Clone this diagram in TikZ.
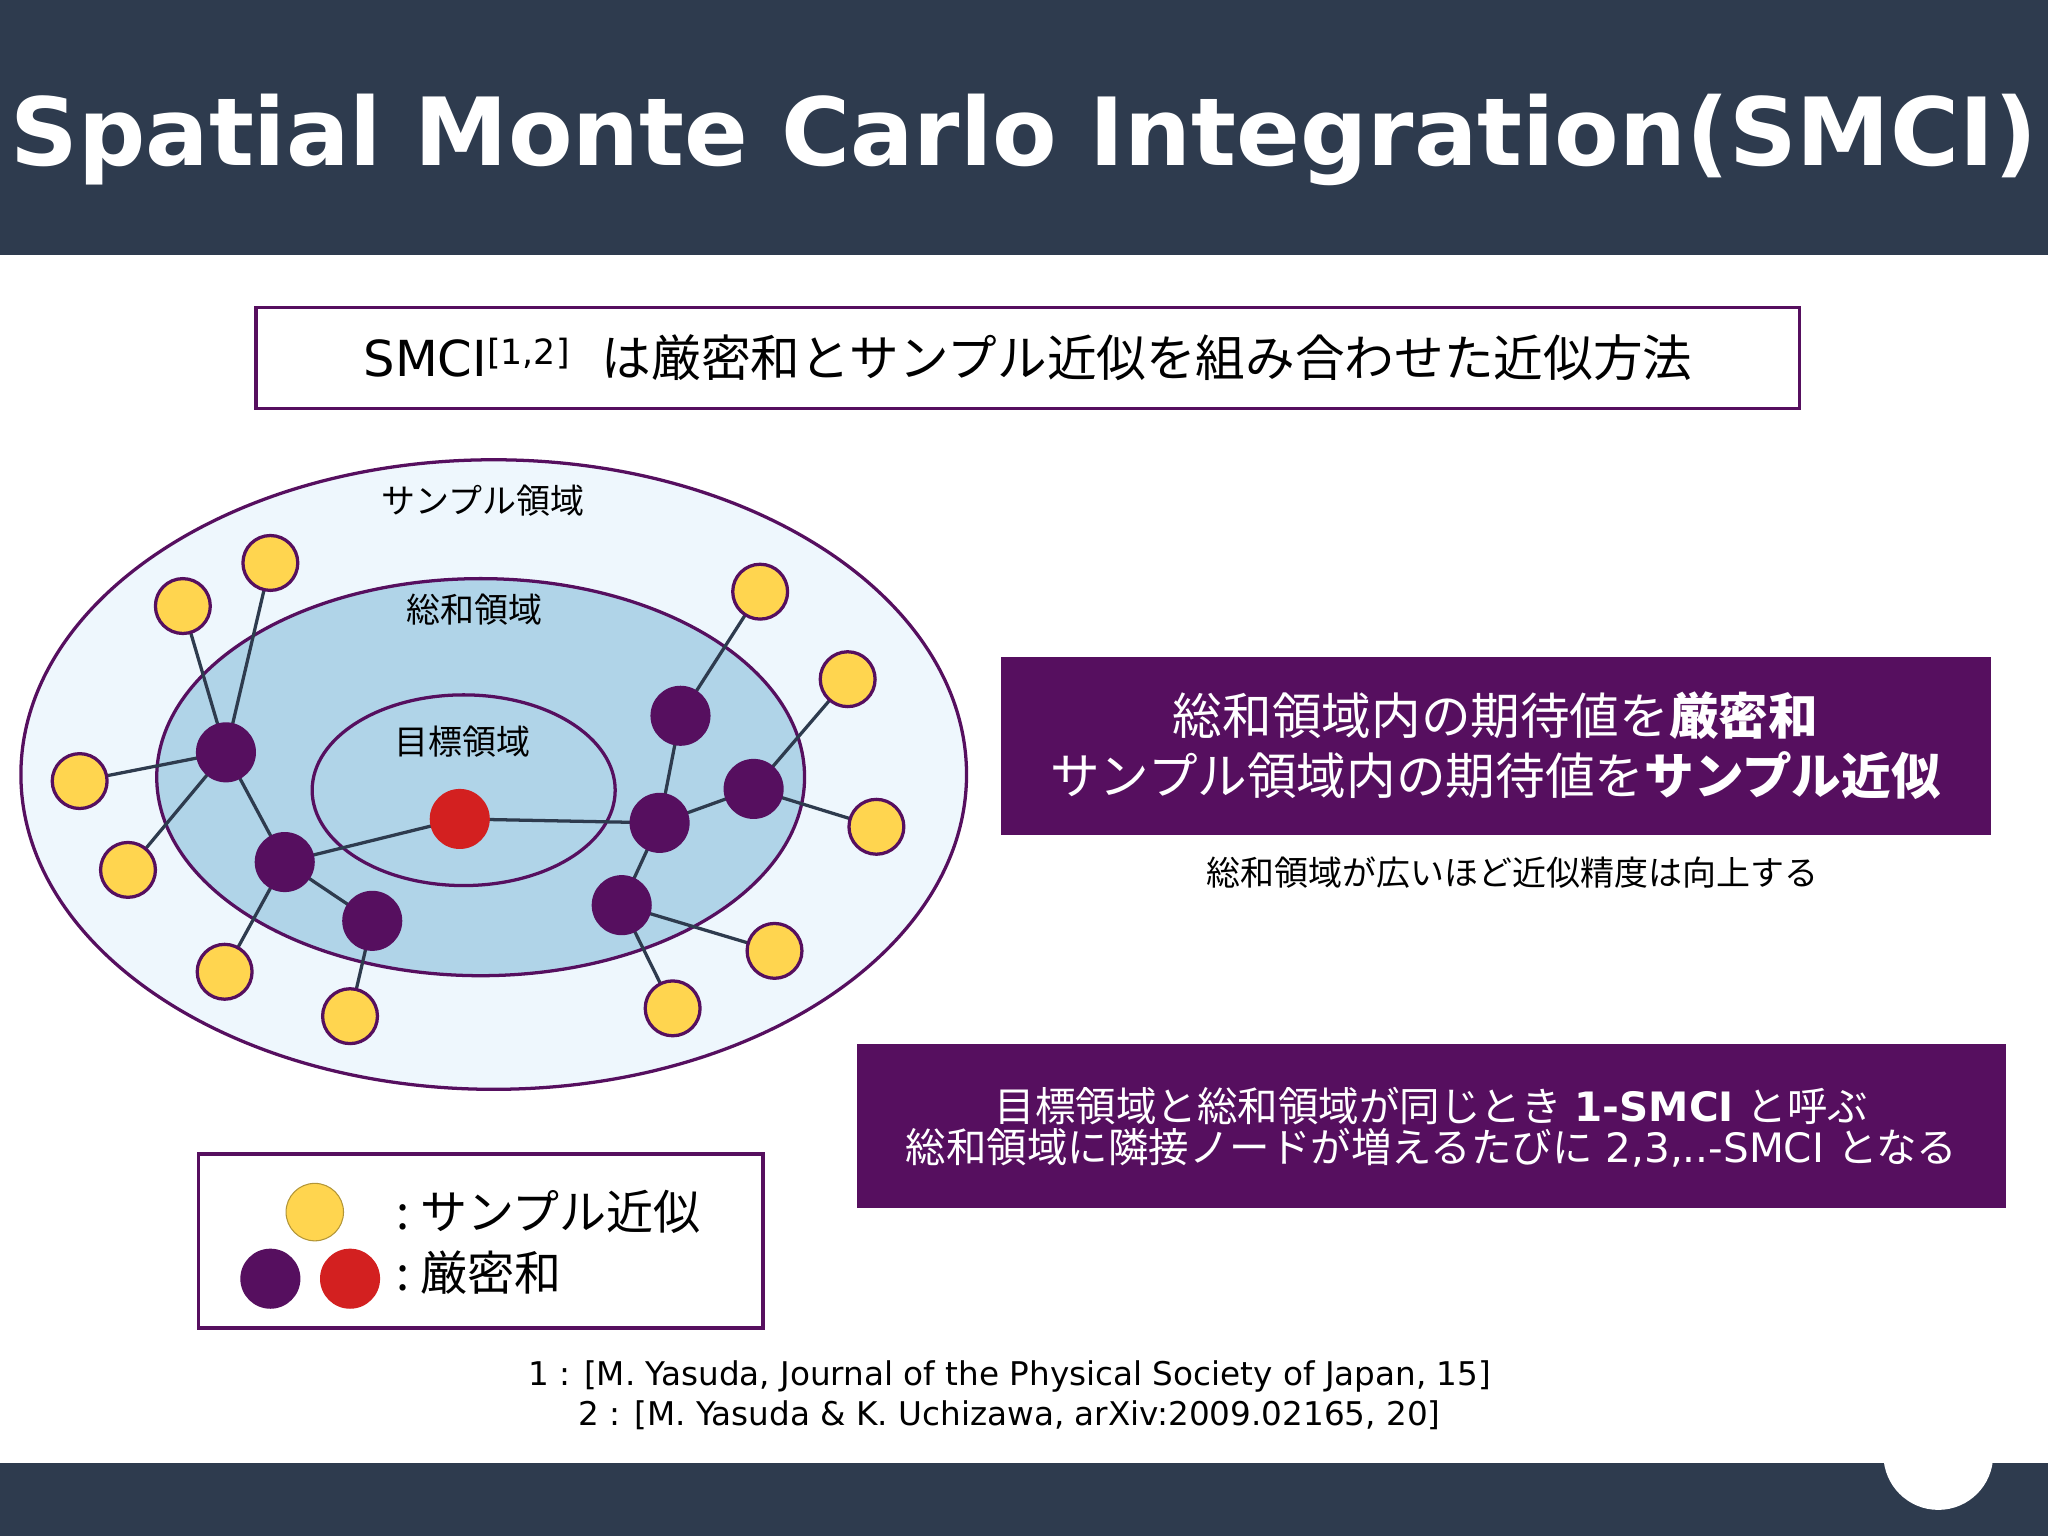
\documentclass[tikz,border=0pt]{standalone}
\usepackage{fontspec}
\setmainfont{DejaVu Sans}
\newfontfamily\cjk{Noto Sans CJK JP}
\definecolor{bar}{HTML}{2E3B4E}
\definecolor{pur}{HTML}{560F5F}
\definecolor{ylw}{HTML}{FFD54F}
\definecolor{rd}{HTML}{D32020}
\definecolor{lt}{HTML}{EEF7FD}
\definecolor{md}{HTML}{B0D4E8}
\definecolor{tl}{HTML}{1ABC9C}
\newcommand{\fs}[1]{\fontsize{#1pt}{\dimexpr #1pt*13/10\relax}\selectfont}
\tikzset{x=1pt,y=-1pt,
 yn/.style={circle,draw=pur,line width=2.5pt,fill=ylw,minimum size=42pt,inner sep=0},
 pn/.style={circle,fill=pur,minimum size=46pt,inner sep=0},
 rn/.style={circle,fill=rd,minimum size=46pt,inner sep=0},
 ed/.style={draw=bar,line width=2.5pt},
 ell/.style={draw=pur,line width=2.5pt}}
\begin{document}
\begin{tikzpicture}
\useasboundingbox (0,0) rectangle (1568,1176);
\fill[white] (0,0) rectangle (1568,1176);
\fill[bar] (0,0) rectangle (1568,195);
\fill[bar] (0,1120) rectangle (1568,1176);
\node[white,font=\fs{72}\bfseries] (title) at (784,107) {Spatial Monte Carlo Integration(SMCI)};
\node[draw=pur,line width=2.5pt,minimum width=1182pt,minimum height=77pt] (top) at (787,274) {};
\node (toptxt) at (787,274) {\fs{38}SMCI\textsuperscript{[1,2]}\ \ \cjk は厳密和とサンプル近似を組み合わせた近似方法};
% ellipses
\draw[ell,fill=lt] (378,593) ellipse [x radius=362,y radius=241];
\draw[ell,fill=md] (368,595) ellipse [x radius=248,y radius=152];
\draw[ell,fill=md] (355,605) ellipse [x radius=116,y radius=73];
\node[font=\cjk\fs{26}] (l1) at (370,383) {サンプル領域};
\node[font=\cjk\fs{26}] (l2) at (363,467) {総和領域};
\node[font=\cjk\fs{26}] (l3) at (354,568) {目標領域};
% nodes
\path (173,576) coordinate (A) (218,660) coordinate (B) (285,705) coordinate (C)
 (521,548) coordinate (D) (505,630) coordinate (E) (577,604) coordinate (F) (476,693) coordinate (G) (352,627) coordinate (R)
 (140,464) coordinate (y1) (207,431) coordinate (y2) (61,598) coordinate (y3) (98,666) coordinate (y4)
 (172,744) coordinate (y5) (268,778) coordinate (y6) (582,453) coordinate (y7) (649,520) coordinate (y8)
 (671,633) coordinate (y9) (593,728) coordinate (y10) (515,772) coordinate (y11);
\foreach \a/\b in {A/y1,A/y2,A/y3,A/y4,A/B,B/R,B/y5,B/C,C/y6,R/E,E/D,D/y7,E/F,F/y8,F/y9,E/G,G/y10,G/y11}
 \draw[ed] (\a) -- (\b);
\foreach \n in {A,B,C,D,E,F,G} \node[pn] at (\n) {};
\node[rn] at (R) {};
\foreach \n in {y1,y2,y3,y4,y5,y6,y7,y8,y9,y10,y11} \node[yn] at (\n) {};
% box1
\node[fill=pur,minimum width=758pt,minimum height=136pt] (b1) at (1145,571) {};
\node[white,font=\cjk\fs{38},align=center] (b1t) at (1145,571) {総和領域内の期待値を\textbf{厳密和}\\[-4pt]サンプル領域内の期待値を\textbf{サンプル近似}};
\node[font=\cjk\fs{26}] (cap) at (1158,668) {総和領域が広いほど近似精度は向上する};
% box2
\node[fill=pur,minimum width=879pt,minimum height=125pt] (b2) at (1096,862) {};
\node[white,align=center] (b2t) at (1096,863) {\fs{31}{\cjk 目標領域と総和領域が同じとき} \textbf{1-SMCI} {\cjk と呼ぶ}\\[2pt]\fs{31}{\cjk 総和領域に隣接ノードが増えるたびに} 2,3,..-SMCI {\cjk となる}};
% legend
\node[draw=pur,line width=3pt,minimum width=432pt,minimum height=133pt] (leg) at (368,950) {};
\node[circle,draw=ylw!70!black,line width=0.8pt,fill=ylw,minimum size=44pt,inner sep=0] (ly) at (241,928) {};
\node[pn] (lp) at (207,979) {};
\node[rn] (lr) at (268,979) {};
\node[anchor=west,font=\cjk\fs{36}] (t1) at (300,928) {:\ サンプル近似};
\node[anchor=west,font=\cjk\fs{36}] (t2) at (300,974) {:\ 厳密和};
% refs
\node[font=\fs{25},align=center] (refs) at (773,1068) {1 : [M. Yasuda, Journal of the Physical Society of Japan, 15]\\[-2pt]2 : [M. Yasuda \& K. Uchizawa, arXiv:2009.02165, 20]};
\node[circle,fill=tl,minimum size=84pt,inner sep=0,white,font=\fs{34}\bfseries] (pg) at (1484,1114) {47};
\end{tikzpicture}
\end{document}
